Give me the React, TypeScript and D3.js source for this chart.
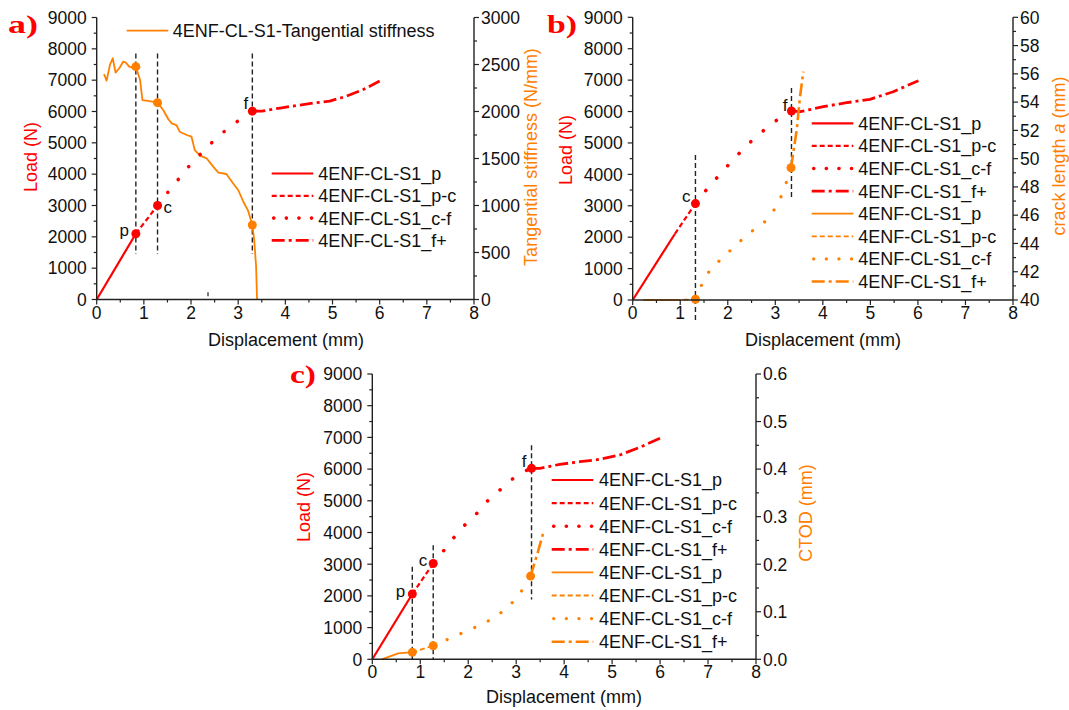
import React from "react";
import * as d3 from "d3";

type P = [number, number];
const RED = "#ff0000";
const ORANGE = "#ff8000";
const FONT = "'Liberation Sans', Arial, Helvetica, sans-serif";

// ---------- shared ticks / labels ----------
const X_TICKS = [0, 1, 2, 3, 4, 5, 6, 7, 8];
const LOAD_TICKS = [0, 1000, 2000, 3000, 4000, 5000, 6000, 7000, 8000, 9000];
const A_RIGHT_TICKS = [0, 500, 1000, 1500, 2000, 2500, 3000];
const B_RIGHT_TICKS = [40, 42, 44, 46, 48, 50, 52, 54, 56, 58, 60];
const C_RIGHT_TICKS = [0, 0.1, 0.2, 0.3, 0.4, 0.5, 0.6];
const LEGEND_NAMES = ["4ENF-CL-S1_p", "4ENF-CL-S1_p-c", "4ENF-CL-S1_c-f", "4ENF-CL-S1_f+"];
const A_TOP_LEGEND = "4ENF-CL-S1-Tangential stiffness";

// ---------- panel a ----------
const A_loadP: P[] = [[0, 0], [0.83, 2100]];
const A_loadPC: P[] = [[0.83, 2100], [1.29, 3000]];
const A_loadCF: P[] = [[1.29, 3000], [1.52, 3440], [1.96, 4260], [2.4, 4950], [2.67, 5320], [2.94, 5640], [3.3, 6010]];
const A_loadF: P[] = [[3.3, 6010], [3.5, 6010], [3.89, 6110], [4.24, 6190], [4.59, 6270], [4.94, 6330], [5.3, 6490], [5.65, 6700], [6.0, 6970]];
const A_stiff: P[] = [
  [0.155, 2399], [0.21, 2328], [0.28, 2495], [0.34, 2566], [0.4, 2413], [0.48, 2460], [0.56, 2530],
  [0.62, 2519], [0.69, 2477], [0.76, 2466], [0.83, 2477], [0.92, 2335], [0.97, 2122], [1.09, 2112],
  [1.29, 2094], [1.41, 2016], [1.52, 1917], [1.59, 1874], [1.69, 1856], [1.76, 1785], [1.91, 1750],
  [2.01, 1732], [2.08, 1590], [2.19, 1530], [2.33, 1502], [2.47, 1413], [2.58, 1349], [2.75, 1335],
  [2.89, 1236], [3.0, 1165], [3.11, 1040], [3.21, 945], [3.3, 793], [3.34, 633], [3.38, 349], [3.4, 0],
];
const A_loadMarks: P[] = [[0.83, 2100], [1.29, 3000], [3.3, 6010]];
const A_stiffMarks: P[] = [[0.83, 2477], [1.29, 2094], [3.3, 793]];
const A_vlines: [number, number, number][] = [[0.83, 7850, 1450], [1.29, 7850, 1450], [3.3, 7850, 1450]];

// ---------- panel b ----------
const B_loadP: P[] = [[0, 0], [0.89, 2110]];
const B_loadPC: P[] = [[0.89, 2110], [1.32, 3070]];
const B_loadCF: P[] = [[1.32, 3070], [1.5, 3417], [1.73, 3820], [1.96, 4212], [2.19, 4594], [2.43, 4966], [2.68, 5306], [2.94, 5624], [3.21, 5921], [3.34, 6017]];
const B_loadF: P[] = [[3.34, 6017], [3.52, 5995], [4.01, 6154], [4.5, 6281], [4.99, 6389], [5.48, 6631], [6.01, 6982]];
const B_crackP: P[] = [[0.22, 40], [0.9, 40]];
const B_crackPC: P[] = [[0.9, 40], [1.32, 40.05]];
const B_crackCF: P[] = [[1.32, 40.05], [1.45, 41.06], [1.63, 42.17], [1.84, 42.83], [2.05, 43.49], [2.29, 44.25], [2.54, 44.95], [2.78, 45.54], [3.0, 46.49], [3.17, 47.66], [3.33, 49.36]];
const B_crackF: P[] = [[3.33, 49.36], [3.45, 52.03], [3.52, 54.39], [3.59, 56.16]];
const B_loadMarks: P[] = [[1.32, 3070], [3.34, 6017]];
const B_crackMarks: P[] = [[1.32, 40.05], [3.33, 49.36]];
const B_vlines: [number, number, number][] = [[1.32, 4620, -640], [3.34, 6750, 3180]];

// ---------- panel c ----------
const C_loadP: P[] = [[0, 0], [0.834, 2060]];
const C_loadPC: P[] = [[0.834, 2060], [1.27, 3022]];
const C_loadCF: P[] = [[1.27, 3022], [1.5, 3448], [1.7, 3836], [1.93, 4237], [2.18, 4606], [2.4, 4993], [2.66, 5340], [2.92, 5687], [3.18, 5939], [3.32, 6024]];
const C_loadF: P[] = [[3.32, 6024], [3.5, 6025], [3.91, 6151], [4.33, 6233], [4.75, 6309], [5.16, 6445], [5.58, 6689], [6.0, 6973]];
const C_ctodP: P[] = [[0.196, 0], [0.54, 0.0126], [0.72, 0.014], [0.834, 0.0147]];
const C_ctodPC: P[] = [[0.834, 0.0147], [1.27, 0.0286]];
const C_ctodCF: P[] = [[1.27, 0.0286], [1.62, 0.044], [1.93, 0.058], [2.25, 0.072], [2.52, 0.086], [2.8, 0.107], [3.04, 0.132], [3.3, 0.175]];
const C_ctodF: P[] = [[3.3, 0.175], [3.45, 0.225], [3.57, 0.268]];
const C_loadMarks: P[] = [[0.834, 2060], [1.27, 3022], [3.32, 6024]];
const C_ctodMarks: P[] = [[0.834, 0.0147], [1.27, 0.0286], [3.3, 0.175]];
const C_vlines: [number, number, number][] = [[0.834, 2920, 0], [1.27, 3600, 0], [3.32, 6750, 1890]];

// ---------- styling ----------
type Style = "solid" | "dash" | "dot" | "dashdot";
const STYLE_ORDER: Style[] = ["solid", "dash", "dot", "dashdot"];

function dashFor(color: string, st: Style, legend: boolean): string | undefined {
  if (st === "solid") return undefined;
  if (st === "dash") return "5,3";
  if (st === "dot") return legend ? "0.1,12.5" : color === RED ? "0.1,16.5" : "0.1,15";
  return "13,4,3,4";
}

function strokeW(color: string, st: Style): number {
  if (st === "dot") return color === RED ? 3.6 : 3.2;
  if (st === "dashdot") return color === RED ? 2.8 : 2.6;
  return color === RED ? 2.2 : 1.8;
}

type Series = { data: P[]; axis: "L" | "R"; color: string; style: Style };
type Mark = { p: P; axis: "L" | "R"; color: string };
type Lbl = { p: P; text: string; dx: number; dy: number; anchor: string };

type Cfg = {
  x0: number; x1: number; yTop: number; yBot: number;
  rDomain: [number, number]; rTicks: number[]; rMinor: number; rFmt: (v: number) => string;
  series: Series[]; marks: Mark[]; labels: Lbl[]; vlines: [number, number, number][];
  leftTitle: { x: number; y: number };
  rightTitle: { x: number; y: number; content: React.ReactNode };
  xTitle: { x: number; y: number };
  panel: { x: number; y: number; text: string };
  legend: { x0: number; x1: number; tx: number; y0: number; dy: number; colors: string[] };
  artifact?: number[];
};

function Panel({ cfg }: { cfg: Cfg }) {
  const x = d3.scaleLinear().domain([0, 8]).range([cfg.x0, cfg.x1]);
  const yL = d3.scaleLinear().domain([0, 9000]).range([cfg.yBot, cfg.yTop]);
  const yR = d3.scaleLinear().domain(cfg.rDomain).range([cfg.yBot, cfg.yTop]);
  const ys = (a: "L" | "R") => (a === "L" ? yL : yR);
  const axisColor = "#222";
  const MAJ = 5, MIN = 3;

  const xMinor = d3.range(0, 8.001, 0.5);
  const lMinor = d3.range(0, 9001, 500);
  const rMinor = d3.range(cfg.rDomain[0], cfg.rDomain[1] + 1e-9, cfg.rMinor);

  return (
    <g>
      {cfg.vlines.map(([vx, a, b], i) => (
        <line key={"v" + i} x1={x(vx)} x2={x(vx)} y1={yL(a)} y2={yL(b)} stroke="#222" strokeWidth={1.4} strokeDasharray="5,3" />
      ))}
      {cfg.artifact?.map((v, i) => (
        <line key={"art" + i} x1={x(v)} x2={x(v)} y1={yL(100)} y2={yL(230)} stroke="#333" strokeWidth={1.3} />
      ))}
      {cfg.series.map((s, i) => {
        const y = ys(s.axis);
        const line = d3.line<P>().x((d) => x(d[0])).y((d) => y(d[1]));
        return (
          <path key={"s" + i} d={line(s.data) || ""} fill="none" stroke={s.color} strokeWidth={strokeW(s.color, s.style)}
            strokeDasharray={dashFor(s.color, s.style, false)} strokeLinecap={s.style === "dot" ? "round" : "butt"} strokeLinejoin="round" />
        );
      })}
      {cfg.marks.map((m, i) => (
        <circle key={"m" + i} cx={x(m.p[0])} cy={ys(m.axis)(m.p[1])} r={4.5} fill={m.color} />
      ))}
      {cfg.labels.map((l, i) => (
        <text key={"l" + i} x={x(l.p[0]) + l.dx} y={yL(l.p[1]) + l.dy} textAnchor={l.anchor}
          fontFamily={FONT} fontSize={17} fill="#111">{l.text}</text>
      ))}
      <line x1={cfg.x0} x2={cfg.x1} y1={cfg.yBot} y2={cfg.yBot} stroke={axisColor} strokeWidth={1.4} />
      <line x1={cfg.x0} x2={cfg.x0} y1={cfg.yTop} y2={cfg.yBot} stroke={axisColor} strokeWidth={1.4} />
      <line x1={cfg.x1} x2={cfg.x1} y1={cfg.yTop} y2={cfg.yBot} stroke={axisColor} strokeWidth={1.4} />
      {xMinor.map((v, i) => {
        const maj = Math.abs(v - Math.round(v)) < 1e-6;
        return <line key={"xt" + i} x1={x(v)} x2={x(v)} y1={cfg.yBot} y2={cfg.yBot + (maj ? MAJ : MIN)} stroke={axisColor} strokeWidth={1.2} />;
      })}
      {lMinor.map((v, i) => {
        const maj = v % 1000 === 0;
        return <line key={"lt" + i} x1={cfg.x0 - (maj ? MAJ : MIN)} x2={cfg.x0} y1={yL(v)} y2={yL(v)} stroke={axisColor} strokeWidth={1.2} />;
      })}
      {rMinor.map((v, i) => {
        const maj = cfg.rTicks.some((t) => Math.abs(t - v) < 1e-6);
        return <line key={"rt" + i} x1={cfg.x1} x2={cfg.x1 + (maj ? MAJ : MIN)} y1={yR(v)} y2={yR(v)} stroke={axisColor} strokeWidth={1.2} />;
      })}
      {X_TICKS.map((v) => (
        <text key={"xl" + v} x={x(v)} y={cfg.yBot + 19} textAnchor="middle" fontFamily={FONT} fontSize={17.5} fill="#111">{v}</text>
      ))}
      {LOAD_TICKS.map((v) => (
        <text key={"ll" + v} x={cfg.x0 - 10} y={yL(v)} dy="0.36em" textAnchor="end" fontFamily={FONT} fontSize={17.5} fill="#111">{v}</text>
      ))}
      {cfg.rTicks.map((v) => (
        <text key={"rl" + v} x={cfg.x1 + 7} y={yR(v)} dy="0.36em" textAnchor="start" fontFamily={FONT} fontSize={17.5} fill="#111">{cfg.rFmt(v)}</text>
      ))}
      <text x={cfg.xTitle.x} y={cfg.xTitle.y} textAnchor="middle" fontFamily={FONT} fontSize={18} fill="#111">Displacement (mm)</text>
      <text transform={`translate(${cfg.leftTitle.x},${cfg.leftTitle.y}) rotate(-90)`} dy="0.35em" textAnchor="middle"
        fontFamily={FONT} fontSize={18} fill={RED}>Load (N)</text>
      <text transform={`translate(${cfg.rightTitle.x},${cfg.rightTitle.y}) rotate(-90)`} dy="0.35em" textAnchor="middle"
        fontFamily={FONT} fontSize={18} fill={ORANGE}>{cfg.rightTitle.content}</text>
      <text x={cfg.panel.x} y={cfg.panel.y} fontFamily="'Liberation Serif', 'Times New Roman', serif" fontWeight="bold"
        fontSize={26} fill={RED} textLength={cfg.panel.text === "c)" ? 26 : 30} lengthAdjust="spacingAndGlyphs">{cfg.panel.text}</text>
      {cfg.legend.colors.map((c, i) => {
        const st = STYLE_ORDER[i % 4];
        const yy = cfg.legend.y0 + i * cfg.legend.dy;
        return (
          <g key={"lg" + i}>
            <line x1={cfg.legend.x0 + (st === "dot" ? 2 : 0)} x2={cfg.legend.x1} y1={yy} y2={yy} stroke={c} strokeWidth={strokeW(c, st)}
              strokeDasharray={dashFor(c, st, true)} strokeLinecap={st === "dot" ? "round" : "butt"} />
            <text x={cfg.legend.tx} y={yy} dy="0.36em" fontFamily={FONT} fontSize={18} fill="#111">{LEGEND_NAMES[i % 4]}</text>
          </g>
        );
      })}
    </g>
  );
}

const mk = (data: P[], axis: "L" | "R", color: string, style: Style): Series => ({ data, axis, color, style });
const marks = (ps: P[], axis: "L" | "R", color: string): Mark[] => ps.map((p) => ({ p, axis, color }));

const cfgA: Cfg = {
  x0: 96.7, x1: 474, yTop: 17.5, yBot: 299.5,
  rDomain: [0, 3000], rTicks: A_RIGHT_TICKS, rMinor: 250, rFmt: (v) => String(v),
  series: [
    mk(A_stiff, "R", ORANGE, "solid"),
    mk(A_loadP, "L", RED, "solid"), mk(A_loadPC, "L", RED, "dash"), mk(A_loadCF, "L", RED, "dot"), mk(A_loadF, "L", RED, "dashdot"),
  ],
  marks: [...marks(A_stiffMarks, "R", ORANGE), ...marks(A_loadMarks, "L", RED)],
  labels: [
    { p: A_loadMarks[0], text: "p", dx: -7, dy: 2, anchor: "end" },
    { p: A_loadMarks[1], text: "c", dx: 6, dy: 7, anchor: "start" },
    { p: A_loadMarks[2], text: "f", dx: -4, dy: -2, anchor: "end" },
  ],
  vlines: A_vlines,
  leftTitle: { x: 31, y: 157 },
  rightTitle: { x: 531, y: 157, content: "Tangential stiffness (N/mm)" },
  xTitle: { x: 286, y: 346 },
  panel: { x: 8, y: 33, text: "a)" },
  legend: { x0: 271.7, x1: 313.3, tx: 318.3, y0: 173.5, dy: 22.3, colors: [RED, RED, RED, RED] },
  artifact: [2.36],
};

const cfgB: Cfg = {
  x0: 632.7, x1: 1013, yTop: 17.3, yBot: 300,
  rDomain: [40, 60], rTicks: B_RIGHT_TICKS, rMinor: 1, rFmt: (v) => String(v),
  series: [
    mk(B_loadP, "L", RED, "solid"), mk(B_loadPC, "L", RED, "dash"), mk(B_loadCF, "L", RED, "dot"), mk(B_loadF, "L", RED, "dashdot"),
    mk(B_crackP, "R", ORANGE, "solid"), mk(B_crackPC, "R", ORANGE, "dash"), mk(B_crackCF, "R", ORANGE, "dot"), mk(B_crackF, "R", ORANGE, "dashdot"),
  ],
  marks: [...marks(B_crackMarks, "R", ORANGE), ...marks(B_loadMarks, "L", RED)],
  labels: [
    { p: B_loadMarks[0], text: "c", dx: -5, dy: -2, anchor: "end" },
    { p: B_loadMarks[1], text: "f", dx: -4, dy: 0, anchor: "end" },
  ],
  vlines: B_vlines,
  leftTitle: { x: 566, y: 150 },
  rightTitle: {
    x: 1059, y: 156,
    content: (<>crack length <tspan fontStyle="italic">a</tspan> (mm)</>),
  },
  xTitle: { x: 823, y: 346 },
  panel: { x: 547, y: 33, text: "b)" },
  legend: { x0: 811.7, x1: 853.3, tx: 858.3, y0: 123.3, dy: 22.6, colors: [RED, RED, RED, RED, ORANGE, ORANGE, ORANGE, ORANGE] },
};

const cfgC: Cfg = {
  x0: 372.3, x1: 756, yTop: 374, yBot: 659.3,
  rDomain: [0, 0.6], rTicks: C_RIGHT_TICKS, rMinor: 0.05, rFmt: (v) => v.toFixed(1),
  series: [
    mk(C_loadP, "L", RED, "solid"), mk(C_loadPC, "L", RED, "dash"), mk(C_loadCF, "L", RED, "dot"), mk(C_loadF, "L", RED, "dashdot"),
    mk(C_ctodP, "R", ORANGE, "solid"), mk(C_ctodPC, "R", ORANGE, "dash"), mk(C_ctodCF, "R", ORANGE, "dot"), mk(C_ctodF, "R", ORANGE, "dashdot"),
  ],
  marks: [...marks(C_ctodMarks, "R", ORANGE), ...marks(C_loadMarks, "L", RED)],
  labels: [
    { p: C_loadMarks[0], text: "p", dx: -7, dy: 3, anchor: "end" },
    { p: C_loadMarks[1], text: "c", dx: -6, dy: 2, anchor: "end" },
    { p: C_loadMarks[2], text: "f", dx: -5, dy: -1, anchor: "end" },
  ],
  vlines: C_vlines,
  leftTitle: { x: 304, y: 507 },
  rightTitle: { x: 806, y: 513, content: "CTOD (mm)" },
  xTitle: { x: 564, y: 703 },
  panel: { x: 290, y: 383, text: "c)" },
  legend: { x0: 551.7, x1: 593.3, tx: 599, y0: 480, dy: 23.1, colors: [RED, RED, RED, RED, ORANGE, ORANGE, ORANGE, ORANGE] },
};

export default function App() {
  return (
    <svg width={1069} height={710} style={{ position: "absolute", left: 0, top: 0, background: "#fff" }}>
      <rect width={1069} height={710} fill="#fff" />
      <Panel cfg={cfgA} />
      <Panel cfg={cfgB} />
      <Panel cfg={cfgC} />
      <line x1={126.7} x2={168.3} y1={30.7} y2={30.7} stroke={ORANGE} strokeWidth={1.8} />
      <text x={172.7} y={30.7} dy="0.36em" fontFamily={FONT} fontSize={18} fill="#111">{A_TOP_LEGEND}</text>
    </svg>
  );
}
